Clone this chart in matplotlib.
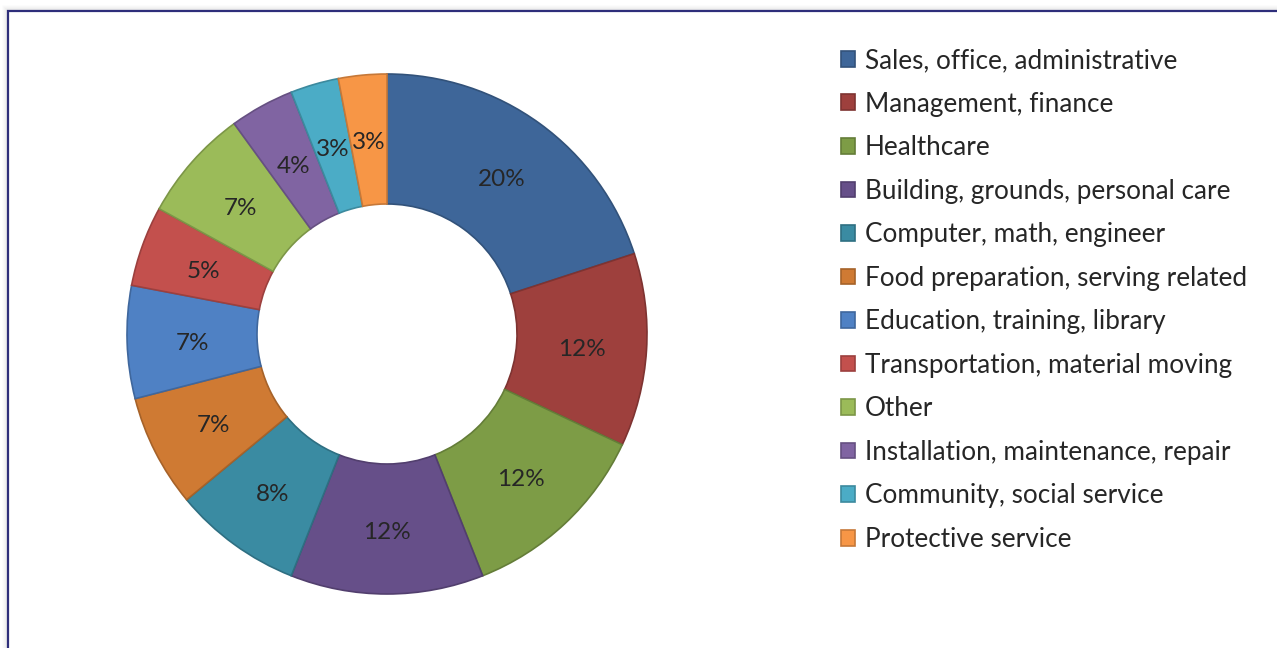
import matplotlib
matplotlib.use("Agg")
import matplotlib.pyplot as plt
from matplotlib.patches import Rectangle
from matplotlib.colors import to_rgb

categories = [
    "Sales, office, administrative",
    "Management, finance",
    "Healthcare",
    "Building, grounds, personal care",
    "Computer, math, engineer",
    "Food preparation, serving related",
    "Education, training, library",
    "Transportation, material moving",
    "Other",
    "Installation, maintenance, repair",
    "Community, social service",
    "Protective service",
]
shares = [20, 12, 12, 12, 8, 7, 7, 5, 7, 4, 3, 3]

colors = ["#3E6699", "#9E403D", "#7D9C46", "#664F89", "#3A8BA2", "#CF7A33",
          "#4F81C4", "#C3504D", "#9BBB59", "#8064A2", "#4BACC6", "#F79646"]

W, H = 1277, 648
fig = plt.figure(figsize=(W / 100, H / 100), dpi=100)
fig.patch.set_facecolor("white")

# soft shadow + frame line along left/top edge
for i, a in enumerate([0.06, 0.045, 0.03, 0.02, 0.01]):
    fig.add_artist(Rectangle(((7 - i) / W, -0.1), 2, 1.1 - (10 - i) / H,
                             transform=fig.transFigure, fill=False,
                             edgecolor=(0, 0, 0, a), lw=1.2))
fig.add_artist(Rectangle((8 / W, -0.1), 2, 1.1 - 11 / H,
                         transform=fig.transFigure, fill=False,
                         edgecolor="#2E2E7A", lw=1.6))

# donut: centre (387, 334) px, outer radius 260 px
cx, cy, R = 387, 334, 260
ax = fig.add_axes([(cx - R) / W, (H - cy - R) / H, 2 * R / W, 2 * R / H])

edges = [tuple(c * 0.8 for c in to_rgb(col)) for col in colors]
wedges, _, autotexts = ax.pie(
    shares, colors=colors, startangle=90, counterclock=False, radius=1,
    autopct="%.0f%%", pctdistance=0.75,
    wedgeprops=dict(width=0.5, linewidth=1.2),
    textprops=dict(fontsize=17.5, color="#262626", family="Lato"))
for w, e in zip(wedges, edges):
    w.set_edgecolor(e)
for t in autotexts:
    x, y = t.get_position()
    t.set_position((x, y - 0.012))
ax.set_xlim(-1, 1)
ax.set_ylim(-1, 1)
ax.set_aspect("equal")
ax.axis("off")

fig.legend(wedges, categories, loc="upper left",
           bbox_to_anchor=(841 / W, 1 - 48 / H), frameon=False,
           prop=dict(family="Lato", size=18.8), labelcolor="#262626",
           handlelength=0.55, handleheight=0.55, handletextpad=0.36,
           labelspacing=0.71, borderaxespad=0, borderpad=0)

fig.savefig("out.png", dpi=100)
